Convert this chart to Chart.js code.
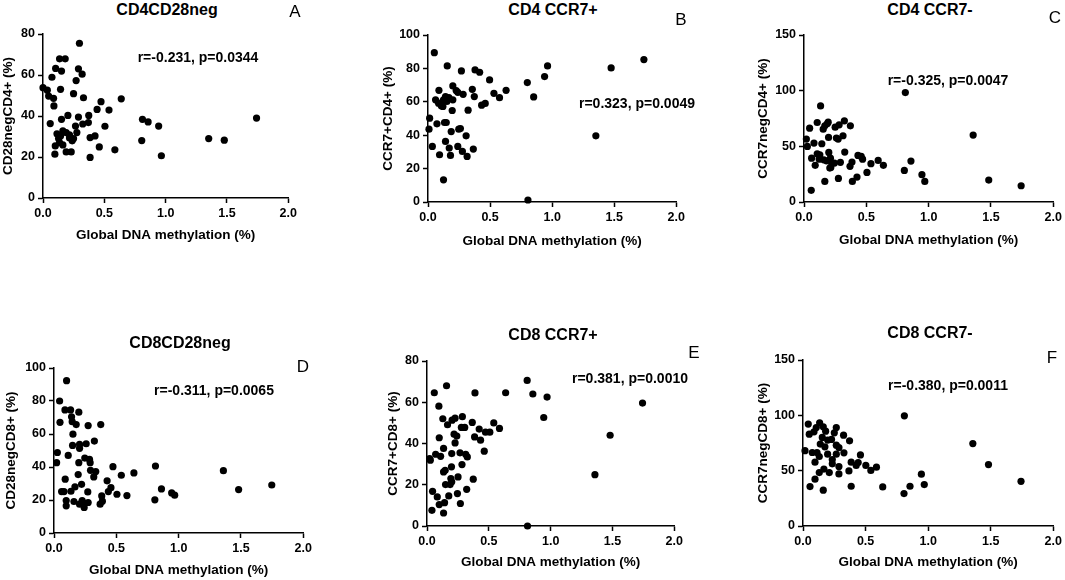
<!DOCTYPE html>
<html>
<head>
<meta charset="utf-8">
<script src="https://cdn.jsdelivr.net/npm/chart.js@4"></script>
<style>
    body { margin: 0; background: #fff; }
    #wrap { position: relative; width: 1065px; height: 580px; overflow: hidden; font-family: "Liberation Sans", Arial, sans-serif; color: #000; }
    #wrap canvas { position: absolute; }
    .lbl { position: absolute; transform: translate(-50%, -50%); white-space: nowrap; }
    .title { font-size: 16px; font-weight: bold; }
    .stat { font-size: 14px; font-weight: bold; }
    .letter { font-size: 17px; }
</style>
</head>
<body>
<div id="wrap"></div>
<script>
// values: [global DNA methylation %, subset %]
const cd4Cd28neg = [
    [0.297,75.5],[0.135,67.9],[0.181,67.9],[0.103,63.2],[0.151,61.9],[0.289,63.0],[0.319,60.4],
    [0.0,53.8],[0.035,52.6],[0.046,49.7],[0.073,58.9],[0.086,48.6],[0.089,44.9],[0.143,53.0],
    [0.270,57.3],[0.249,50.9],[0.330,48.9],[0.059,36.3],[0.151,38.4],[0.203,40.3],[0.289,39.5],
    [0.373,40.3],[0.370,36.8],[0.324,36.1],[0.265,35.1],[0.441,43.2],[0.473,47.0],[0.538,42.9],
    [0.638,48.4],[0.505,35.0],[0.114,31.3],[0.127,29.0],[0.135,27.0],[0.143,30.3],[0.162,25.9],
    [0.162,32.7],[0.189,31.9],[0.216,30.8],[0.216,29.3],[0.249,29.0],[0.238,27.9],[0.276,31.9],
    [0.100,25.4],[0.097,21.4],[0.189,22.5],[0.230,22.5],[0.384,29.5],[0.424,30.3],[0.384,19.8],
    [0.459,24.9],[0.586,23.5],[0.811,38.4],[0.857,37.1],[0.805,28.0],[0.943,35.1],[0.965,20.6],
    [1.351,29.0],[1.478,28.2],[1.741,39.0]
];
const cd4Ccr7pos = [
    [0.051,89.4],[0.155,81.5],[0.269,78.5],[0.379,79.1],[0.416,77.7],[0.496,73.1],[0.80,71.5],
    [0.939,75.1],[0.963,81.5],[1.475,80.3],[1.739,85.3],[0.851,62.9],[0.088,66.9],[0.2,69.5],
    [0.227,66.7],[0.24,65.7],[0.283,64.5],[0.357,67.5],[0.373,63.1],[0.531,65.1],[0.576,62.5],
    [0.629,66.9],[0.461,59.0],[0.432,58.0],[0.323,55.0],[0.061,61.2],[0.085,59.2],[0.107,57.6],
    [0.125,61.2],[0.141,63.1],[0.12,57.2],[0.152,60.2],[0.2,61.2],[0.195,54.8],[0.168,62.5],
    [0.013,50.2],[0.008,43.6],[0.072,46.8],[0.133,47.6],[0.147,47.6],[0.187,42.2],[0.248,43.6],
    [0.261,44.0],[0.307,39.6],[0.035,33.3],[0.141,36.3],[0.171,32.3],[0.24,33.3],[0.093,28.3],
    [0.181,27.9],[0.277,30.3],[0.315,27.3],[0.365,31.7],[0.125,13.3],[0.805,1.2],[1.352,39.6]
];
const cd4Ccr7neg = [
    [0.813,98.3],[1.357,60.1],[1.482,19.7],[1.742,14.6],[0.805,28.4],[0.858,36.8],[0.946,24.5],
    [0.969,18.5],[0.133,86.3],[0.045,66.3],[0.106,71.4],[0.154,65.4],[0.186,70.2],[0.194,71.7],
    [0.167,68.4],[0.25,67.2],[0.282,69.3],[0.324,72.9],[0.313,59.5],[0.372,68.4],[0.26,57.4],
    [0.197,58.0],[0.274,56.5],[0.019,56.5],[0.027,49.9],[0.08,52.9],[0.143,52.3],[0.061,39.4],
    [0.106,43.3],[0.127,42.4],[0.09,32.9],[0.122,38.5],[0.159,37.9],[0.199,44.5],[0.212,39.4],
    [0.181,37.0],[0.223,35.0],[0.244,35.0],[0.207,30.5],[0.215,31.1],[0.292,35.6],[0.327,44.8],
    [0.369,32.0],[0.385,35.9],[0.433,41.8],[0.459,40.9],[0.47,38.5],[0.537,34.4],[0.595,37.3],
    [0.637,32.9],[0.505,26.6],[0.425,22.4],[0.276,21.2],[0.388,18.5],[0.167,18.5],[0.058,10.5]
];
const cd8Cd28neg = [
    [0.101,92.3],[0.045,80.0],[0.048,67.1],[0.088,74.6],[0.133,74.6],[0.199,73.2],[0.141,70.4],
    [0.146,67.5],[0.178,65.7],[0.274,65.1],[0.375,65.7],[0.152,59.9],[0.149,53.1],[0.205,53.7],
    [0.205,51.3],[0.258,54.1],[0.324,55.7],[0.027,48.8],[0.021,42.6],[0.114,47.0],[0.199,42.6],
    [0.247,45.4],[0.285,44.6],[0.29,42.6],[0.293,38.0],[0.335,37.2],[0.319,34.0],[0.194,35.4],
    [0.221,29.5],[0.09,32.6],[0.473,40.2],[0.426,31.6],[0.54,35.0],[0.641,36.4],[0.814,40.6],
    [1.359,37.8],[0.061,25.1],[0.08,25.1],[0.136,25.3],[0.168,27.9],[0.271,24.9],[0.436,25.1],
    [0.457,27.5],[0.505,23.5],[0.585,22.7],[0.383,22.5],[0.098,19.7],[0.098,16.5],[0.16,19.1],
    [0.226,19.7],[0.237,18.1],[0.274,18.5],[0.205,17.5],[0.242,15.5],[0.37,17.5],[0.388,19.3],
    [0.809,20.1],[0.862,26.7],[0.944,24.3],[0.968,22.9],[1.481,26.3],[1.747,29.1]
];
const cd8Ccr7pos = [
    [0.81,70.6],[0.636,64.6],[0.856,64.0],[0.971,62.5],[0.944,52.6],[1.743,59.6],[1.481,44.0],
    [1.358,24.9],[0.813,0.0],[0.059,64.6],[0.158,68.0],[0.388,64.5],[0.096,58.1],[0.128,52.0],
    [0.166,49.1],[0.203,51.3],[0.227,52.3],[0.286,53.0],[0.278,47.8],[0.305,47.8],[0.366,50.2],
    [0.422,47.0],[0.473,45.5],[0.508,45.5],[0.540,50.0],[0.586,47.3],[0.433,41.6],[0.385,43.2],
    [0.463,36.3],[0.219,44.5],[0.241,43.6],[0.099,42.8],[0.134,37.6],[0.227,40.3],[0.2,35.1],
    [0.267,35.5],[0.313,34.8],[0.326,33.5],[0.07,34.8],[0.11,33.8],[0.021,32.7],[0.027,31.9],
    [0.283,29.8],[0.198,28.7],[0.134,26.2],[0.147,27.0],[0.374,22.7],[0.15,20.1],[0.193,23.0],
    [0.251,23.8],[0.2,21.4],[0.187,20.1],[0.321,17.8],[0.045,16.8],[0.083,14.1],[0.176,14.6],
    [0.246,15.7],[0.099,10.4],[0.142,11.3],[0.27,10.9],[0.04,7.6],[0.134,6.3]
];
const cd8Ccr7neg = [
    [0.81,99.6],[1.357,74.5],[1.482,55.5],[1.742,40.4],[0.807,29.3],[0.855,35.9],[0.946,46.8],
    [0.969,37.4],[0.637,35.3],[0.385,35.9],[0.042,92.1],[0.05,83.0],[0.088,85.1],[0.106,89.0],
    [0.133,93.2],[0.162,89.6],[0.181,85.7],[0.154,80.0],[0.197,77.6],[0.228,78.2],[0.138,74.0],
    [0.175,71.5],[0.266,89.0],[0.25,84.2],[0.324,82.1],[0.372,77.0],[0.287,70.9],[0.266,73.0],
    [0.327,66.1],[0.197,64.9],[0.234,60.1],[0.016,68.1],[0.074,66.4],[0.112,66.4],[0.13,62.8],
    [0.096,57.7],[0.234,56.2],[0.287,53.7],[0.266,64.9],[0.385,57.7],[0.425,54.7],[0.459,64.2],
    [0.441,57.4],[0.502,54.7],[0.542,50.2],[0.587,53.2],[0.367,49.8],[0.287,47.1],[0.167,51.4],
    [0.13,48.3],[0.21,48.3],[0.096,42.3],[0.056,35.6],[0.162,32.4]
];

const xTicks = [0, 0.5, 1.0, 1.5, 2.0];

// one entry per panel: data, axis limits and where the canvas sits
const panels = [
    { data: cd4Cd28neg, yMax: 80,  yStep: 20, yTitle: 'CD28negCD4+ (%)',
      title: 'CD4CD28neg', stat: 'r=-0.231, p=0.0344', letter: 'A',
      box: [0, 20, 300, 223], padTop: 14, yW: 43, xH: 45,
      titlePos: [167, 10], statPos: [198, 57], letterPos: [295, 12] },
    { data: cd4Ccr7pos, yMax: 100, yStep: 20, yTitle: 'CCR7+CD4+ (%)',
      title: 'CD4 CCR7+', stat: 'r=0.323, p=0.0049', letter: 'B',
      box: [380, 20, 308, 229], padTop: 15, yW: 48, xH: 47,
      titlePos: [553, 10], statPos: [637, 103], letterPos: [681, 20] },
    { data: cd4Ccr7neg, yMax: 150, yStep: 50, yTitle: 'CCR7negCD4+ (%)',
      title: 'CD4 CCR7-', stat: 'r=-0.325, p=0.0047', letter: 'C',
      box: [755, 20, 310, 228], padTop: 15, yW: 49, xH: 46,
      titlePos: [930, 10], statPos: [948, 80], letterPos: [1055, 18] },
    { data: cd8Cd28neg, yMax: 100, yStep: 20, yTitle: 'CD28negCD8+ (%)',
      title: 'CD8CD28neg', stat: 'r=-0.311, p=0.0065', letter: 'D',
      box: [3, 340, 312, 238], padTop: 28, yW: 51, xH: 45,
      titlePos: [180, 343], statPos: [214, 390], letterPos: [303, 367] },
    { data: cd8Ccr7pos, yMax: 80,  yStep: 20, yTitle: 'CCR7+CD8+ (%)',
      title: 'CD8 CCR7+', stat: 'r=0.381, p=0.0010', letter: 'E',
      box: [385, 340, 301, 230], padTop: 21, yW: 42, xH: 44,
      titlePos: [553, 335], statPos: [630, 378], letterPos: [694, 353] },
    { data: cd8Ccr7neg, yMax: 150, yStep: 50, yTitle: 'CCR7negCD8+ (%)',
      title: 'CD8 CCR7-', stat: 'r=-0.380, p=0.0011', letter: 'F',
      box: [755, 340, 310, 230], padTop: 20, yW: 48, xH: 44,
      titlePos: [930, 333], statPos: [948, 385], letterPos: [1052, 358] }
];

const FONT = '"Liberation Sans", Arial, sans-serif';
const wrap = document.getElementById('wrap');

function addLabel(text, cls, pos) {
    const el = document.createElement('div');
    el.className = 'lbl ' + cls;
    el.textContent = text;
    el.style.left = pos[0] + 'px';
    el.style.top = pos[1] + 'px';
    wrap.appendChild(el);
}

function axisStyle() {
    return {
        grid: { drawOnChartArea: false, drawTicks: true, tickLength: 5, tickColor: '#000', tickWidth: 1.5 },
        border: { color: '#000', width: 1.5 },
        ticks: { color: '#000', padding: 3, font: { family: FONT, size: 12.5, weight: 'bold' } },
        title: { display: true, color: '#000', padding: 0, font: { family: FONT, size: 13.5, weight: 'bold' } }
    };
}

Chart.defaults.animation = false;

panels.forEach(p => {
    const [left, top, w, h] = p.box;
    const canvas = document.createElement('canvas');
    canvas.width = w;
    canvas.height = h;
    canvas.style.left = left + 'px';
    canvas.style.top = top + 'px';
    canvas.style.width = w + 'px';
    canvas.style.height = h + 'px';
    wrap.appendChild(canvas);

    const xAxis = axisStyle();
    const yAxis = axisStyle();

    new Chart(canvas.getContext('2d'), {
        type: 'scatter',
        data: {
            datasets: [{
                data: p.data.map(d => ({ x: d[0], y: d[1] })),
                backgroundColor: '#000',
                borderWidth: 0,
                pointRadius: 3.6,
                pointHoverRadius: 3.6,
                clip: false
            }]
        },
        options: {
            responsive: false,
            devicePixelRatio: 1,
            events: [],
            layout: { padding: { top: p.padTop, right: 10, bottom: 0, left: 0 } },
            plugins: { legend: { display: false }, tooltip: { enabled: false } },
            scales: {
                x: {
                    ...xAxis,
                    type: 'linear',
                    min: 0,
                    max: 2,
                    afterBuildTicks: s => { s.ticks = xTicks.map(v => ({ value: v })); },
                    afterFit: s => { s.height = p.xH; },
                    ticks: { ...xAxis.ticks, maxRotation: 0, callback: v => v.toFixed(1) },
                    title: { ...xAxis.title, text: 'Global DNA methylation (%)' }
                },
                y: {
                    ...yAxis,
                    min: 0,
                    max: p.yMax,
                    afterFit: s => { s.width = p.yW; },
                    ticks: { ...yAxis.ticks, stepSize: p.yStep },
                    title: { ...yAxis.title, text: p.yTitle }
                }
            }
        }
    });

    addLabel(p.title, 'title', p.titlePos);
    addLabel(p.stat, 'stat', p.statPos);
    addLabel(p.letter, 'letter', p.letterPos);
});
</script>
</body>
</html>
